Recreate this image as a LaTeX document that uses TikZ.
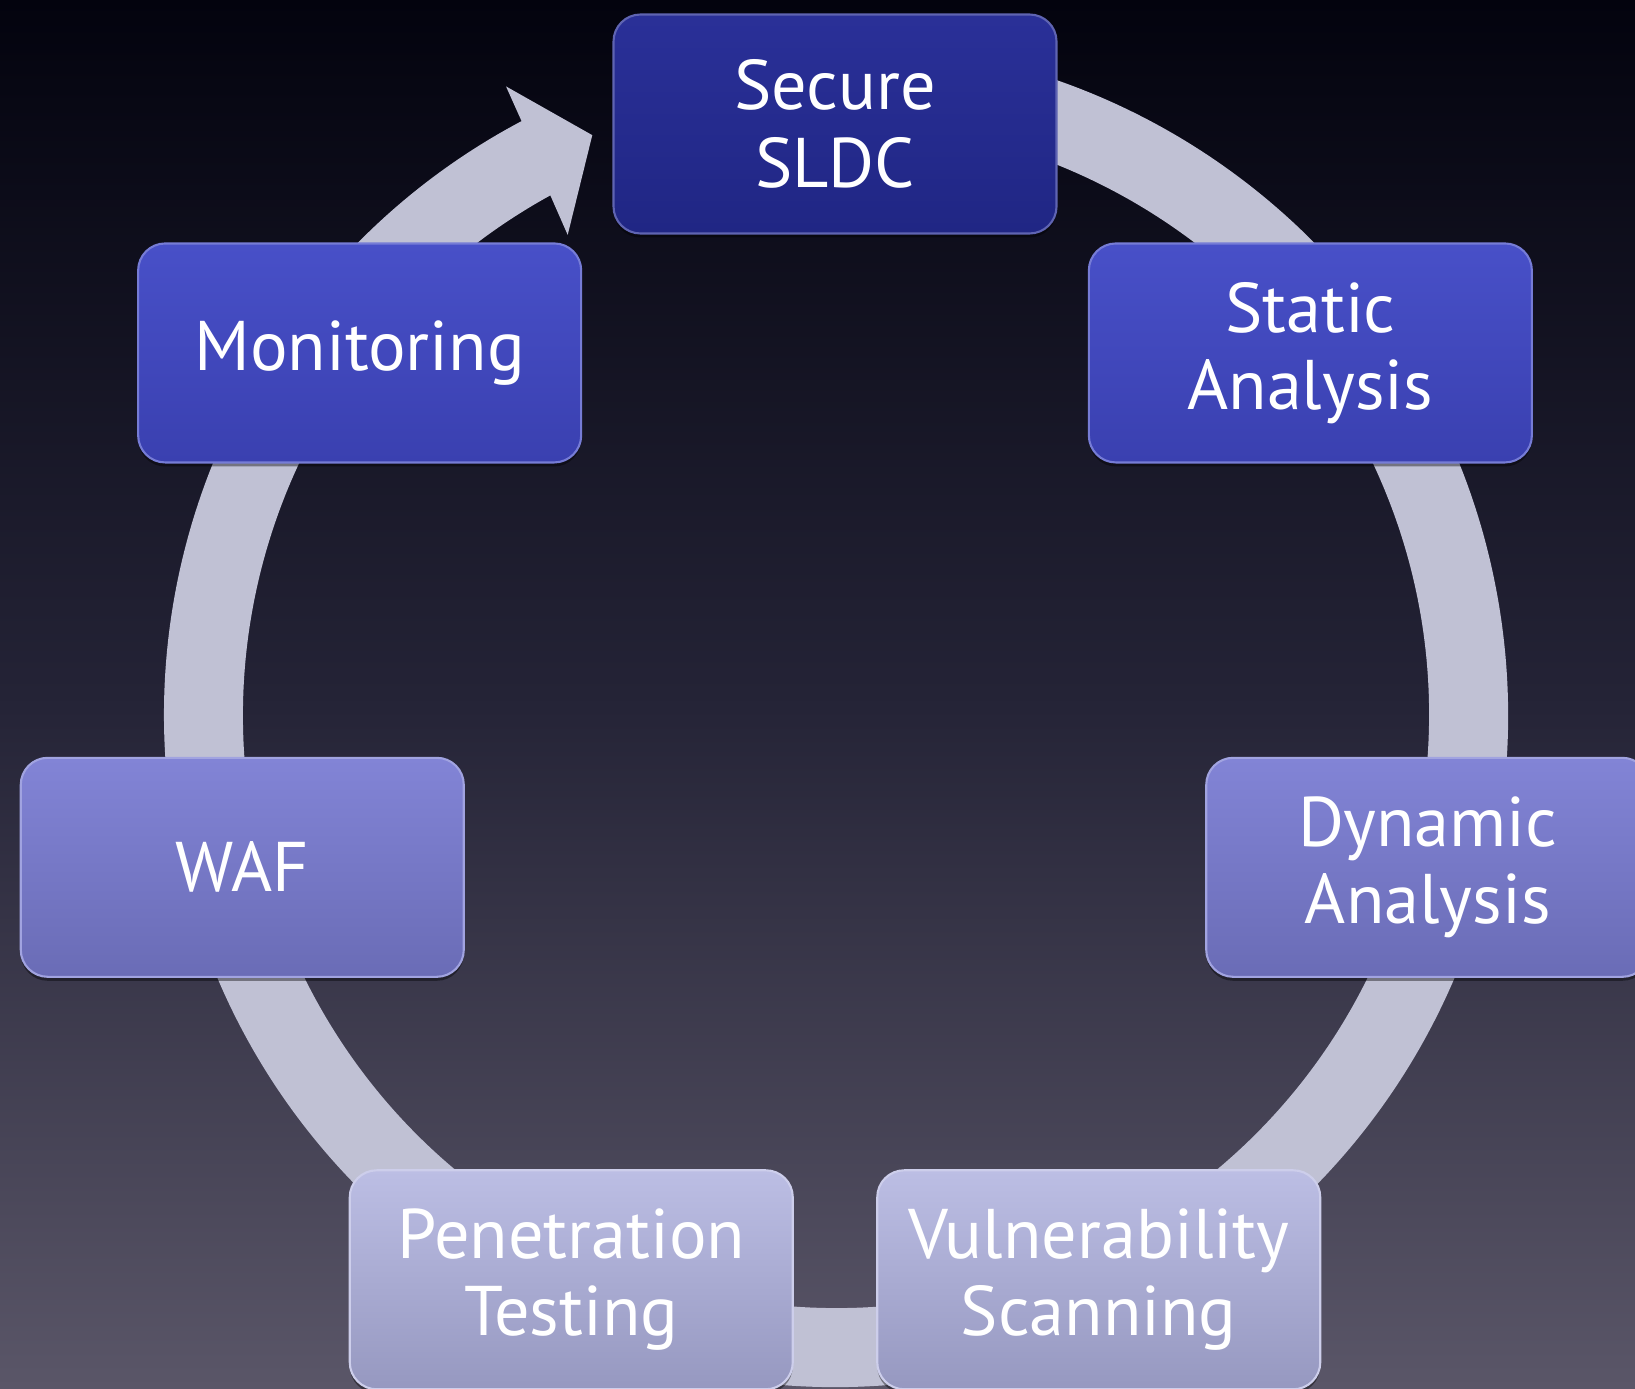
\documentclass[tikz,border=0pt]{standalone}
\usepackage{fontspec}
\setmainfont{PT Sans}
\usetikzlibrary{shadows}
\definecolor{bgtop}{RGB}{3,3,14}
\definecolor{bgmid}{RGB}{36,35,54}
\definecolor{bgbot}{RGB}{90,86,104}
\definecolor{ringgray}{RGB}{192,193,212}
\definecolor{navyhi}{RGB}{42,48,152}
\definecolor{navylo}{RGB}{32,38,132}
\definecolor{bluehi}{RGB}{72,80,200}
\definecolor{bluelo}{RGB}{58,64,176}
\definecolor{violethi}{RGB}{130,132,214}
\definecolor{violetlo}{RGB}{106,108,182}
\definecolor{lilachi}{RGB}{188,190,228}
\definecolor{lilaclo}{RGB}{150,152,192}

\begin{document}
\begin{tikzpicture}[
    phase node/.style={rectangle,rounded corners=0.27cm,minimum width=4.43cm,minimum height=2.19cm,
      top color=#1hi,bottom color=#1lo,draw=#1hi!75!white,line width=0.6pt,
      text=white,align=center,font=\fontsize{20}{22}\selectfont,
      drop shadow={shadow xshift=0cm,shadow yshift=-0.04cm,fill=black,opacity=0.4}},
    cycle band/.style={fill=ringgray}]

  \clip (0,0) rectangle (16.35,13.88);
  \fill[top color=bgtop,bottom color=bgbot,middle color=bgmid] (0,0) rectangle (16.35,13.88);

  \coordinate (hub) at (8.36,6.73);
  \coordinate (ring) at (8.35,6.56);

  \begin{scope}[shift={(hub)}]
    \fill[cycle band] (100:6.72) arc[start angle=100,end angle=-242.1,radius=6.72]
      -- (-242.3:7.10) -- (-247.2:6.29) -- (-240.8:5.50) -- (-241.2:5.93)
      arc[start angle=-241.2,end angle=100,radius=5.93] -- cycle;
  \end{scope}

  \node[phase node=navy] (sdlc) at ([shift={(90:6.08)}]ring) {Secure\\SLDC};
  \node[phase node=blue] (static) at ([shift={(38.57:6.08)}]ring) {Static\\Analysis};
  \node[phase node=violet] (dynamic) at ([shift={(-12.86:6.08)}]ring) {Dynamic\\Analysis};
  \node[phase node=lilac] (vuln) at ([shift={(-64.29:6.08)}]ring) {Vulnerability\\Scanning};
  \node[phase node=lilac] (pentest) at ([shift={(-115.71:6.08)}]ring) {Penetration\\Testing};
  \node[phase node=violet] (waf) at ([shift={(-167.14:6.08)}]ring) {WAF};
  \node[phase node=blue] (monitor) at ([shift={(141.43:6.08)}]ring) {Monitoring};
\end{tikzpicture}
\end{document}
